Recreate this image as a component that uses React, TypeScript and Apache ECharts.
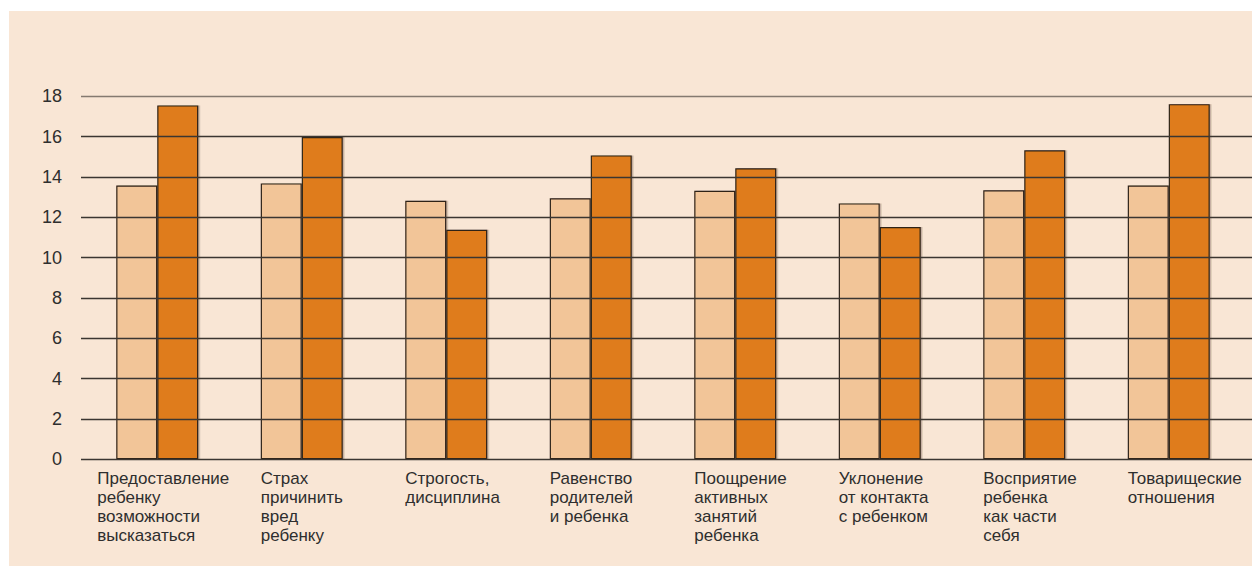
import React, { useEffect, useRef } from "react";
import * as echarts from "echarts";

const categories = [
  "Предоставление\nребенку\nвозможности\nвысказаться",
  "Страх\nпричинить\nвред\nребенку",
  "Строгость,\nдисциплина",
  "Равенство\nродителей\nи ребенка",
  "Поощрение\nактивных\nзанятий\nребенка",
  "Уклонение\nот контакта\nс ребенком",
  "Восприятие\nребенка\nкак части\nсебя",
  "Товарищеские\nотношения",
];
const seriesLight = [13.58, 13.68, 12.82, 12.94, 13.32, 12.69, 13.34, 13.58];
const seriesDark = [17.55, 15.98, 11.38, 15.07, 14.43, 11.52, 15.32, 17.61];
const yTicks = { min: 0, max: 18, interval: 2 };

export default function App() {
  const ref = useRef<HTMLDivElement>(null);
  useEffect(() => {
    if (!ref.current) return;
    const chart = echarts.init(ref.current, null, { renderer: "svg" });
    const gridColors = [
      "#3b3631", "#3b3631", "#3b3631", "#3b3631", "#3b3631",
      "#3b3631", "#3b3631", "#3b3631", "#3b3631", "#857a70",
    ];
    const barShadow = {
      shadowColor: "rgba(60,40,20,0.3)",
      shadowOffsetX: 1.5,
      shadowOffsetY: 0,
      shadowBlur: 0,
    };
    const labelFont = "Liberation Sans, Arial, sans-serif";
    const catLabel = {
      fontFamily: labelFont,
      fontSize: 17,
      lineHeight: 19,
      color: "#2e2e2e",
      align: "left",
      verticalAlign: "top",
    };
    chart.setOption({
      animation: false,
      backgroundColor: "transparent",
      grid: [
        { left: 76, right: 11, top: 85.3, bottom: 106.7, containLabel: false },
        { left: 72, right: 0, top: 85.3, bottom: 106.7, containLabel: false },
      ],
      xAxis: [
        {
          type: "category",
          gridIndex: 0,
          data: categories.map((c, i) =>
            i === 0
              ? { value: c, textStyle: { ...catLabel, padding: [0, 0, 0, -60] } }
              : c
          ),
          axisLine: { show: false },
          axisTick: { show: false },
          splitLine: { show: false },
          axisLabel: {
            ...catLabel,
            interval: 0,
            padding: [0, 0, 0, -41],
            margin: 10,
          },
        },
        {
          type: "category",
          gridIndex: 1,
          data: categories,
          show: false,
        },
      ],
      yAxis: [
        {
          type: "value",
          gridIndex: 0,
          min: yTicks.min,
          max: yTicks.max,
          interval: yTicks.interval,
          show: false,
          splitLine: { show: false },
        },
        {
          type: "value",
          gridIndex: 1,
          z: 10,
          min: yTicks.min,
          max: yTicks.max,
          interval: yTicks.interval,
          axisLine: { show: false },
          axisTick: { show: false },
          axisLabel: {
            fontFamily: labelFont,
            fontSize: 18,
            color: "#2e2e2e",
            margin: 19,
            verticalAlign: "middle",
            padding: [0, 0, 6, 0],
          },
          splitLine: {
            show: true,
            lineStyle: {
              color: gridColors,
              width: 1.3,
              type: "solid",
            },
          },
        },
      ],
      series: [
        {
          type: "bar",
          xAxisIndex: 0,
          yAxisIndex: 0,
          data: seriesLight,
          barWidth: 41,
          barGap: "0%",
          itemStyle: {
            color: "#F2C598",
            borderColor: "#2e2218",
            borderWidth: 1.2,
            ...barShadow,
          },
        },
        {
          type: "bar",
          xAxisIndex: 0,
          yAxisIndex: 0,
          data: seriesDark,
          barWidth: 41,
          barGap: "0%",
          itemStyle: {
            color: "#DF7C1A",
            borderColor: "#2e2218",
            borderWidth: 1.2,
            ...barShadow,
          },
        },
      ],
    });
    return () => chart.dispose();
  }, []);
  return (
    <div
      style={{
        position: "fixed",
        left: 0,
        top: 0,
        width: 1252,
        height: 567,
        background: "#ffffff",
      }}
    >
      <div
        ref={ref}
        style={{
          position: "absolute",
          left: 9,
          top: 11,
          width: 1243,
          height: 555,
          background: "#F9E6D5",
        }}
      />
    </div>
  );
}
